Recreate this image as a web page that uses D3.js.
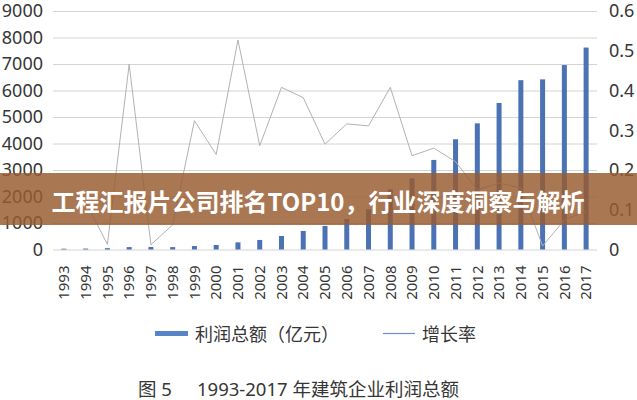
<!DOCTYPE html>
<html>
<head>
<meta charset="utf-8">
<script src="https://cdn.jsdelivr.net/npm/d3@7"></script>
<style>
  html, body { margin: 0; padding: 0; background: #fff; }
  svg { display: block; }
</style>
</head>
<body>
<svg id="chart" width="637" height="400"></svg>
<script>
// chart data
const years = ["1993","1994","1995","1996","1997","1998","1999","2000","2001","2002","2003","2004",
  "2005","2006","2007","2008","2009","2010","2011","2012","2013","2014","2015","2016","2017"];
const profit = [30, 35, 50, 90, 95, 90, 130, 170, 270, 360, 510, 700,
  890, 1150, 1520, 2270, 2690, 3380, 4160, 4760, 5530, 6390, 6420, 6960, 7620];
const growth = [null, 0.12, 0.013, 0.466, 0.012, 0.062, 0.324, 0.239, 0.527, 0.261, 0.408, 0.382,
  0.265, 0.316, 0.311, 0.408, 0.236, 0.255, 0.221, 0.15, 0.167, 0.155, 0.009, 0.074, 0.097];
const leftTicks = [0, 1000, 2000, 3000, 4000, 5000, 6000, 7000, 8000, 9000];
const rightTicks = [0, 0.1, 0.2, 0.3, 0.4, 0.5, 0.6];
const legendLabels = ["利润总额（亿元）", "增长率"];
const bannerTitle = "工程汇报片公司排名TOP10，行业深度洞察与解析";
const figNo = "图 5";
const caption = "1993-2017 年建筑企业利润总额";

const svg = d3.select("#chart");
const font = "'Noto Sans', 'Noto Sans CJK SC', sans-serif";
const textColor = "#363636";
const barColor = "#4a72b5";

const plotL = 53, plotR = 597, plotT = 11, plotB = 249.5;

const x = d3.scaleBand().domain(years).range([plotL, plotR]).paddingInner(0.77).paddingOuter(0.385);
const yL = d3.scaleLinear().domain([0, 9000]).range([plotB, plotT]);
const yR = d3.scaleLinear().domain([0, 0.6]).range([plotB, plotT]);

// grid
const grid = svg.append("g").attr("transform", `translate(${plotL},0)`)
  .call(d3.axisLeft(yL).tickValues(leftTicks).tickSize(-(plotR - plotL)).tickFormat(""));
grid.select(".domain").remove();
grid.selectAll("line").attr("stroke", "#d4d4d4").attr("stroke-width", 1);

// left axis
const ga = svg.append("g").attr("transform", `translate(${plotL},0)`)
  .call(d3.axisLeft(yL).tickValues(leftTicks).tickSize(0).tickPadding(10).tickFormat(d3.format("d")));
ga.select(".domain").remove();
ga.selectAll("text").attr("font-family", font).attr("font-size", 18).attr("fill", textColor);

// right axis
const gr = svg.append("g").attr("transform", `translate(${plotR},0)`)
  .call(d3.axisRight(yR).tickValues(rightTicks).tickSize(0).tickPadding(12)
    .tickFormat(d => d === 0 ? "0" : d3.format(".1f")(d)));
gr.select(".domain").remove();
gr.selectAll("text").attr("font-family", font).attr("font-size", 18).attr("fill", textColor);

// bottom axis (rotated years)
const gb = svg.append("g").attr("transform", `translate(0,${plotB})`)
  .call(d3.axisBottom(x).tickSize(0));
gb.select(".domain").remove();
gb.selectAll("text")
  .attr("font-family", font).attr("font-size", 15).attr("fill", textColor)
  .attr("x", 0).attr("y", 0).attr("dy", "0.35em")
  .attr("text-anchor", "end")
  .attr("transform", "translate(0,16) rotate(-90)");

// bars
svg.append("g").selectAll("rect").data(years).join("rect")
  .attr("x", d => x(d))
  .attr("width", x.bandwidth())
  .attr("y", (d, i) => yL(profit[i]))
  .attr("height", (d, i) => plotB - yL(profit[i]))
  .attr("fill", barColor);

// growth line
const line = d3.line()
  .defined(d => d.v != null)
  .x(d => x(d.year) + x.bandwidth() / 2)
  .y(d => yR(d.v));
svg.append("path")
  .datum(years.map((year, i) => ({ year, v: growth[i] })))
  .attr("d", line)
  .attr("fill", "none")
  .attr("stroke", "#b2b2b2")
  .attr("stroke-width", 1);

// legend
svg.append("rect").attr("x", 155).attr("y", 331).attr("width", 33).attr("height", 5).attr("fill", "#5585c8");
svg.append("text").attr("x", 195).attr("y", 333.5).attr("dominant-baseline", "central")
  .attr("font-family", font).attr("font-size", 18).attr("fill", textColor).text(legendLabels[0]);
svg.append("line").attr("x1", 383).attr("x2", 415).attr("y1", 333.5).attr("y2", 333.5)
  .attr("stroke", "#6b8fc8").attr("stroke-width", 1.2);
svg.append("text").attr("x", 422).attr("y", 333.5).attr("dominant-baseline", "central")
  .attr("font-family", font).attr("font-size", 18).attr("fill", textColor).text(legendLabels[1]);

// caption
svg.append("text").attr("x", 138).attr("y", 388).attr("dominant-baseline", "central")
  .attr("font-family", font).attr("font-size", 18.5).attr("fill", textColor).text(figNo);
svg.append("text").attr("x", 197).attr("y", 388).attr("dominant-baseline", "central")
  .attr("font-family", font).attr("font-size", 18.5).attr("fill", textColor).text(caption);

// banner overlay
svg.append("rect").attr("x", 0).attr("y", 173).attr("width", 637).attr("height", 52)
  .attr("fill", "rgb(153,92,48)").attr("fill-opacity", 0.83);
svg.append("text").attr("x", 318).attr("y", 200).attr("text-anchor", "middle")
  .attr("dominant-baseline", "central")
  .attr("font-family", "'Noto Sans CJK SC', sans-serif").attr("font-weight", 700)
  .attr("font-size", 24).attr("fill", "#fff").text(bannerTitle);
</script>
</body>
</html>
